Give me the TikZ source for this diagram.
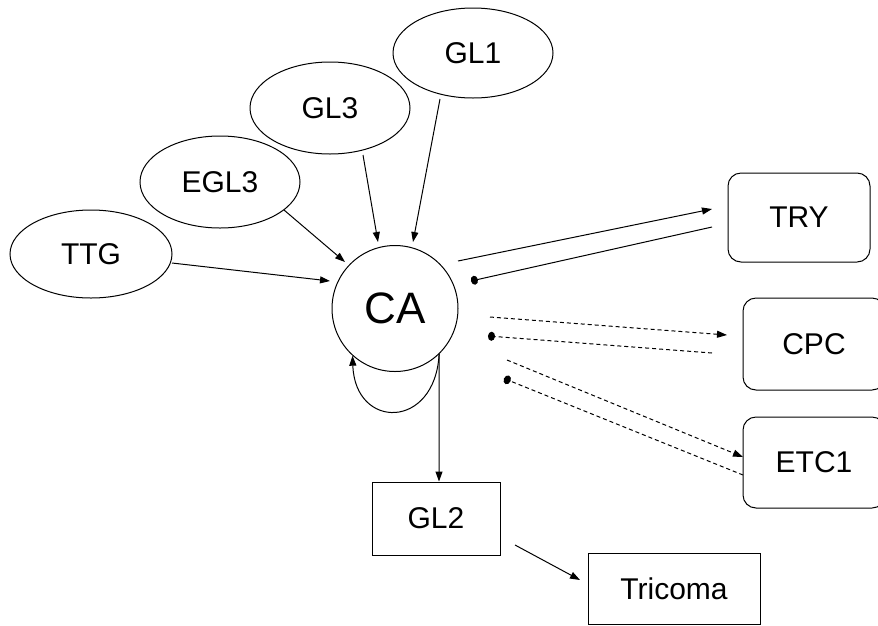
\documentclass[tikz,border=0pt]{standalone}
\usepackage{fontspec}
\setmainfont{Liberation Sans}
\usetikzlibrary{shapes.geometric,arrows.meta,calc}

\tikzset{
  lbl/.style={font=\fontsize{30}{35}\selectfont, inner sep=0pt},
  oval/.style={lbl, ellipse, draw, line width=1pt},
  rbox/.style={lbl, rectangle, rounded corners=13pt, draw, line width=1pt},
  sbox/.style={lbl, rectangle, draw, line width=1pt},
  act/.style={line width=1pt, -{Triangle[length=10pt,width=7pt]}},
  inh/.style={line width=1pt, -{Circle[length=7pt,width=9pt]}},
  dsh/.style={dash pattern=on 4pt off 3pt}
}

\begin{document}
\begin{tikzpicture}[x=1pt,y=-1pt]
\useasboundingbox (0,0) rectangle (878,625);

% regulators (ovals)
\node[oval, minimum width=162pt, minimum height=88pt] (TTG)  at (91,254)  {TTG};
\node[oval, minimum width=160pt, minimum height=92pt] (EGL3) at (220,182) {EGL3};
\node[oval, minimum width=160pt, minimum height=92pt] (GL3)  at (330,108) {GL3};
\node[oval, minimum width=160pt, minimum height=90pt] (GL1)  at (473,53)  {GL1};

% activator complex
\node[circle, draw, line width=1pt, minimum size=126pt, inner sep=0pt,
      font=\fontsize{44}{50}\selectfont] (CA) at (395,308.5) {CA};

% targets
\node[rbox, minimum width=142pt, minimum height=89pt] (TRY)  at (799,217.5) {TRY};
\node[rbox, minimum width=142pt, minimum height=92pt] (CPC)  at (814,344)   {CPC};
\node[rbox, minimum width=142pt, minimum height=91pt] (ETC1) at (814,462.5) {ETC1};
\node[sbox, minimum width=128pt, minimum height=73pt] (GL2)  at (436,518.5) {GL2};
\node[sbox, minimum width=172pt, minimum height=71pt] (TRI)  at (674,588.5) {Tricoma};

% inputs to CA
\draw[act] ($(TTG)+(81,9)$)    -- ($(CA)+(-65,-27.5)$);
\draw[act] ($(EGL3)+(64,28)$)  -- ($(CA)+(-50,-46.5)$);
\draw[act] ($(GL3)+(33,47)$)   -- ($(CA)+(-17,-66.5)$);
\draw[act] ($(GL1)+(-33,46)$)  -- ($(CA)+(18,-66.5)$);

% CA <-> TRY
\draw[act] ($(CA)+(63,-47.5)$) -- ($(TRY)+(-87,-8.5)$);
\draw[inh] ($(TRY)+(-87,9.5)$) -- ($(CA)+(76,-27.5)$);

% CA <-> CPC (dashed)
\draw[act,dsh] ($(CA)+(95,8.5)$)   -- ($(CPC)+(-87,-9)$);
\draw[inh,dsh] ($(CPC)+(-102,9)$)  -- ($(CA)+(93,27.5)$);

% CA <-> ETC1 (dashed)
\draw[act,dsh] ($(CA)+(112,51.5)$)   -- ($(ETC1)+(-71,-5.5)$);
\draw[inh,dsh] ($(ETC1)+(-71,12.5)$) -- ($(CA)+(109,70)$);

% self loop and output
\draw[act] (CA.-46.6) .. controls ($(CA)+(40,121.5)$) and ($(CA)+(-40,121.5)$) .. (CA.-132);
\draw[act] (CA.-46.6) -- ([xshift=3pt]GL2.north);
\draw[act] ($(GL2)+(79,26.5)$) -- ($(TRI)+(-94,-8.5)$);
\end{tikzpicture}
\end{document}
